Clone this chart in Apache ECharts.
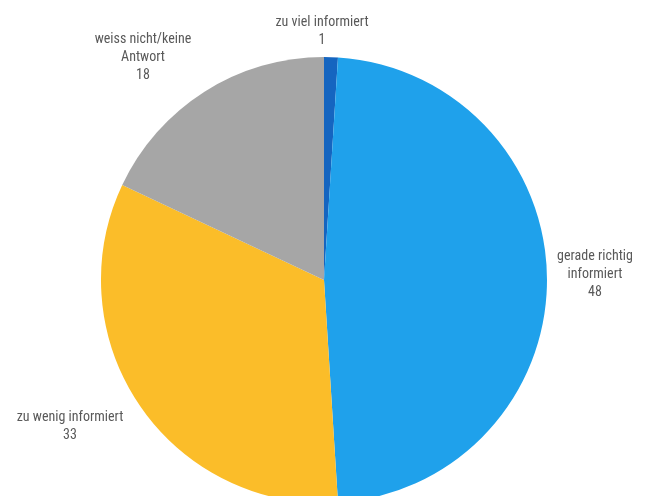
<!DOCTYPE html>
<html>
<head>
<meta charset="utf-8">
<script src="https://cdn.jsdelivr.net/npm/echarts@6/dist/echarts.min.js"></script>
<style>
  html, body { margin: 0; padding: 0; background: #ffffff; }
  #chart { width: 646px; height: 496px; }
</style>
</head>
<body>
<div id="chart"></div>
<script>
// Survey answers, clockwise from twelve o'clock
var categories = ['zu viel informiert', 'gerade richtig\ninformiert', 'zu wenig informiert', 'weiss nicht/keine\nAntwort'];
var values = [1, 48, 33, 18];
var colors = ['#1565c0', '#1fa1eb', '#fbbd29', '#a6a6a6'];

// Where each label block sits (centre of the text block)
var labelAnchors = [[322, 31], [595, 274], [70, 426], [143, 57]];

var chart = echarts.init(document.getElementById('chart'), null, { renderer: 'canvas' });

var pieData = categories.map(function (name, i) {
  return { name: name, value: values[i], itemStyle: { color: colors[i] } };
});

chart.setOption({
  animation: false,
  backgroundColor: '#ffffff',
  series: [{
    type: 'pie',
    center: [324, 280],
    radius: [0, 223],
    startAngle: 90,
    clockwise: true,
    data: pieData,
    itemStyle: { borderWidth: 0 },
    label: {
      show: true,
      position: 'outside',
      formatter: '{b}\n{c}',
      color: '#595959',
      fontFamily: '"Roboto Condensed", "Liberation Sans Narrow", "Roboto", sans-serif',
      fontSize: 14,
      lineHeight: 18,
      align: 'center',
      overflow: 'none'
    },
    labelLine: { show: false },
    labelLayout: function (params) {
      var p = labelAnchors[params.dataIndex];
      return {
        x: p[0],
        y: p[1],
        align: 'center',
        verticalAlign: 'middle',
        hideOverlap: false
      };
    }
  }]
});
</script>
</body>
</html>
